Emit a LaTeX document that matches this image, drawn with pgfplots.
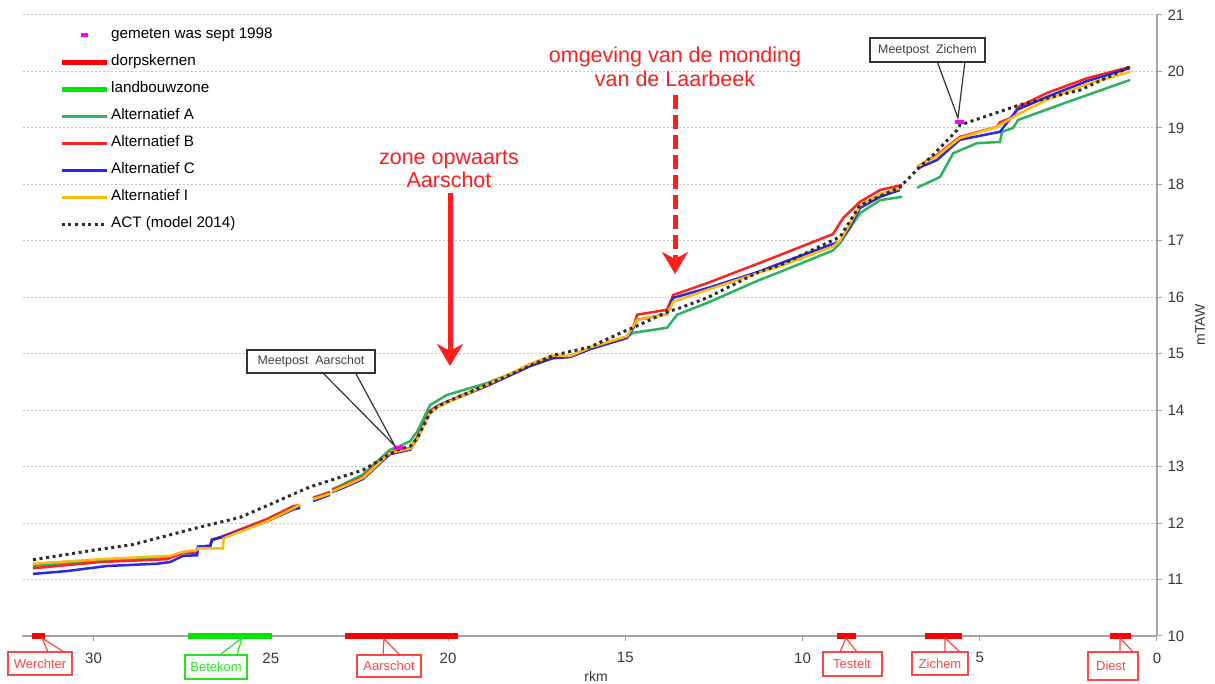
\documentclass[border=0pt]{standalone}
\usepackage{pgfplots}
\pgfplotsset{compat=1.18}
\usepackage{fontspec}
\setmainfont{Liberation Sans}
\usetikzlibrary{arrows.meta}
\definecolor{altA}{RGB}{45,178,95}
\definecolor{altB}{RGB}{255,35,35}
\definecolor{altC}{RGB}{40,40,230}
\definecolor{altI}{RGB}{255,185,10}
\definecolor{actc}{RGB}{45,45,45}
\definecolor{barred}{RGB}{255,0,0}
\definecolor{bargreen}{RGB}{0,230,0}
\definecolor{meas}{RGB}{255,0,255}
\definecolor{axgray}{RGB}{165,165,165}
\definecolor{gridgray}{RGB}{195,195,195}
\definecolor{ticktxt}{RGB}{55,55,55}
\definecolor{annred}{RGB}{255,30,30}
\definecolor{callred}{RGB}{255,70,70}
\definecolor{callgreen}{RGB}{40,225,40}
\pgfplotsset{magleg/.style={legend image code/.code={\draw[##1] (19pt,0pt) -- (26pt,0pt);}}}
\begin{document}
\begin{tikzpicture}
\useasboundingbox (0,0) rectangle (1215pt,684pt);
\begin{axis}[
  at={(22pt,48pt)}, anchor=south west,
  scale only axis, width=1135pt, height=621pt,
  xmin=0, xmax=32.02, ymin=10, ymax=21,
  x dir=reverse,
  axis x line=bottom, axis y line=right,
  axis line style={-, draw=axgray, line width=2pt},
  xtick={0,5,...,30}, ytick={10,11,...,21},
  tick align=outside, major tick length=5pt,
  tick style={draw=axgray, line width=1pt},
  ymajorgrids, major grid style={draw=gridgray, line width=1pt, dash pattern=on 2pt off 2pt},
  ticklabel style={font=\fontsize{15}{17}\selectfont, text=ticktxt},
  /pgf/number format/assume math mode=true,
  xticklabel style={yshift=-8pt},
  yticklabel style={xshift=2pt},
  clip=false, unbounded coords=jump,
  legend image code/.code={\draw[#1] (0pt,0pt) -- (45pt,0pt);},
  legend cell align=left,
  legend style={at={(0.03,0.985)}, anchor=north west, draw=none, fill=none,
     font=\fontsize{15.2}{17}\selectfont, row sep=10pt,
     nodes={text height=10pt, text depth=3pt, inner sep=2pt}},
]
% zones on the river axis
\addplot[barred, line width=6pt, forget plot] coordinates {
(31.74,10)(31.37,10) (25,nan) (22.91,10)(19.72,10) (15,nan) (9.03,10)(8.49,10) (7.5,nan) (6.54,10)(5.50,10) (3,nan) (1.33,10)(0.73,10)};
\addplot[bargreen, line width=6pt, forget plot] coordinates {(27.33,10)(24.96,10)};
% Alternatief A
\addplot[altA, line width=2.5pt, forget plot] coordinates {
(31.71,11.24)(29.82,11.34)(27.93,11.40)(27.48,11.48)(27.08,11.50)(27.05,11.58)(26.71,11.60)(26.66,11.70)(26.38,11.76)(26.06,11.83)(25.11,12.06)(24.37,12.29)(24.17,12.31)
(24.0,nan)
(23.81,12.45)(23.33,12.55)
(23.30,nan)
(23.27,12.60)(23.05,12.66)(22.40,12.86)(21.64,13.30)(21.41,13.35)(21.07,13.45)(20.87,13.62)(20.51,14.09)(20.03,14.27)(18.90,14.48)(18.17,14.66)(17.69,14.80)(17.04,14.94)(16.56,14.96)(15.99,15.10)(14.95,15.30)(14.78,15.37)(13.82,15.46)(13.54,15.69)(12.69,15.90)(11.20,16.31)(10.63,16.45)(9.14,16.83)(8.94,16.96)(8.38,17.49)(7.81,17.72)(7.19,17.78)
(7.0,nan)
(6.77,17.94)(6.12,18.13)(5.75,18.55)(5.08,18.73)(4.43,18.75)(4.37,18.93)(4.06,19.00)(3.92,19.14)(2.74,19.41)(0.76,19.85)};
% Alternatief B
\addplot[altB, line width=2.5pt, forget plot] coordinates {
(31.71,11.20)(29.82,11.31)(27.93,11.36)(27.48,11.47)(27.08,11.47)(27.05,11.58)(26.71,11.60)(26.66,11.71)(26.38,11.76)(26.06,11.84)(25.11,12.07)(24.37,12.30)(24.17,12.32)
(24.0,nan)
(23.81,12.44)(23.33,12.55)
(23.30,nan)
(23.27,12.58)(23.05,12.64)(22.40,12.82)(21.64,13.25)(21.07,13.33)(20.87,13.52)(20.51,13.99)(20.31,14.07)(20.03,14.15)(18.90,14.45)(18.17,14.66)(17.69,14.80)(17.04,14.94)(16.56,14.95)(15.99,15.10)(14.95,15.30)(14.78,15.46)(14.67,15.69)(13.82,15.78)(13.65,16.04)(12.69,16.25)(11.20,16.61)(10.63,16.75)(9.14,17.12)(8.86,17.40)(8.38,17.69)(7.81,17.90)(7.19,17.99)
(7.0,nan)
(6.77,18.31)(6.21,18.52)(5.56,18.84)(4.51,19.02)(4.43,19.10)(4.06,19.19)(3.92,19.37)(3.10,19.62)(1.97,19.88)(0.76,20.08)};
% Alternatief C
\addplot[altC, line width=2.5pt, forget plot] coordinates {
(31.71,11.10)(30.75,11.15)(29.62,11.24)(28.21,11.28)(27.84,11.31)(27.48,11.42)(27.08,11.43)(27.05,11.58)(26.71,11.59)(26.66,11.70)(26.38,11.75)(26.06,11.82)(25.11,12.03)(24.37,12.24)(24.17,12.27)
(24.0,nan)
(23.81,12.39)(23.33,12.50)
(23.30,nan)
(23.27,12.55)(23.05,12.60)(22.40,12.78)(21.64,13.22)(21.07,13.30)(20.87,13.50)(20.51,13.97)(20.31,14.06)(20.03,14.14)(18.90,14.43)(18.17,14.64)(17.69,14.78)(17.04,14.92)(16.56,14.94)(15.99,15.08)(14.95,15.28)(14.78,15.45)(14.67,15.60)(13.82,15.70)(13.65,15.99)(12.69,16.16)(11.20,16.46)(10.63,16.60)(8.94,16.99)(8.66,17.25)(8.38,17.58)(7.81,17.78)(7.25,17.90)
(7.0,nan)
(6.77,18.28)(6.32,18.40)(6.21,18.43)(5.56,18.79)(4.43,18.93)(3.95,19.32)(3.10,19.55)(1.97,19.83)(0.76,20.06)};
% Alternatief I
\addplot[altI, line width=2.5pt, forget plot] coordinates {
(31.71,11.28)(29.82,11.36)(27.84,11.42)(27.48,11.49)(27.08,11.52)(27.05,11.55)(26.35,11.55)(26.33,11.73)(26.06,11.80)(25.11,12.03)(24.37,12.26)(24.17,12.33)
(24.0,nan)
(23.81,12.42)(23.33,12.52)
(23.30,nan)
(23.27,12.56)(23.05,12.62)(22.40,12.80)(21.64,13.24)(21.07,13.32)(20.87,13.48)(20.51,13.96)(20.31,14.05)(20.03,14.13)(18.90,14.45)(18.17,14.67)(17.69,14.82)(17.04,14.97)(16.56,14.96)(15.99,15.11)(14.95,15.31)(14.78,15.48)(14.67,15.60)(13.82,15.70)(13.65,15.92)(12.69,16.13)(11.20,16.44)(10.63,16.55)(9.14,16.90)(8.94,17.00)(8.66,17.30)(8.38,17.62)(7.81,17.83)(7.25,17.93)
(7.0,nan)
(6.77,18.31)(6.21,18.50)(5.56,18.82)(4.51,19.02)(3.95,19.23)(3.10,19.50)(1.97,19.78)(0.76,19.99)};
% ACT (model 2014)
\addplot[actc, line width=3pt, dash pattern=on 3pt off 3.6pt, forget plot] coordinates {
(31.71,11.35)(30.0,11.52)(28.89,11.62)(27.0,11.93)(25.87,12.10)(23.9,12.64)(22.40,12.94)(21.64,13.22)(21.41,13.30)(21.07,13.36)(20.87,13.50)(20.51,13.95)(20.31,14.06)(20.03,14.15)(18.90,14.45)(18.17,14.65)(17.04,14.97)(15.99,15.12)(14.95,15.42)(14.78,15.46)(13.82,15.74)(13.46,15.81)(12.69,15.99)(11.20,16.46)(10.63,16.57)(8.94,17.07)(8.38,17.63)(7.25,17.95)(6.77,18.26)(6.32,18.52)(5.64,18.96)(5.56,19.05)(3.86,19.41)(2.17,19.67)(0.76,20.08)};
% gemeten sept 1998
\addplot[only marks, mark=-, mark size=4.5pt, mark options={draw=meas, line width=4pt}, forget plot] coordinates {(21.41,13.33)(5.56,19.10)};
% legend
\addlegendimage{magleg, draw=meas, line width=4pt}
\addlegendentry{gemeten was sept 1998}
\addlegendimage{draw=barred, line width=5pt}
\addlegendentry{dorpskernen}
\addlegendimage{draw=bargreen, line width=5pt}
\addlegendentry{landbouwzone}
\addlegendimage{draw=altA, line width=3pt}
\addlegendentry{Alternatief A}
\addlegendimage{draw=altB, line width=3pt}
\addlegendentry{Alternatief B}
\addlegendimage{draw=altC, line width=3pt}
\addlegendentry{Alternatief C}
\addlegendimage{draw=altI, line width=3pt}
\addlegendentry{Alternatief I}
\addlegendimage{draw=actc, line width=3pt, dash pattern=on 3pt off 3.6pt}
\addlegendentry{ACT (model 2014)}
\end{axis}
\begin{scope}[x=1pt,y=-1pt,yshift=684pt]
% axis titles
\node[font=\fontsize{14}{16}\selectfont, text=ticktxt] at (596,676) {rkm};
\node[font=\fontsize{14}{16}\selectfont, text=ticktxt, rotate=90] at (1200,325) {mTAW};
% red annotations
\node[text=annred, font=\fontsize{21.5}{23}\selectfont, align=center] at (449,169) {zone opwaarts\\Aarschot};
\draw[annred, line width=5pt, -{Stealth[width=26pt,length=22pt,inset=7pt]}] (450,193) -- (450,366);
\node[text=annred, font=\fontsize{21.5}{24}\selectfont, align=center] at (675,67) {omgeving van de monding\\van de Laarbeek};
\draw[annred, line width=5pt, dash pattern=on 14pt off 6pt, -{Stealth[width=26pt,length=22pt,inset=7pt]}] (675,95) -- (675,274);
% Meetpost callouts
\draw[black!80, line width=1.2pt] (322,372) -- (395,446) -- (355,372);
\draw[black!80, line width=1.2pt, fill=white] (247,350) rectangle (375,373);
\node[font=\fontsize{12.4}{14}\selectfont, text=black!75] at (311,361.5) {Meetpost\ \ Aarschot};
\draw[black!80, line width=1.2pt] (937,61) -- (958,118) -- (965,61);
\draw[black!80, line width=1.2pt, fill=white] (870,38) rectangle (985,62);
\node[font=\fontsize{12.4}{14}\selectfont, text=black!75] at (927.5,50) {Meetpost\ \ Zichem};
% zone callouts
\draw[callred, line width=1.2pt] (48,652) -- (42,638) -- (64,652);
\draw[callred, line width=1.2pt, fill=white] (8,652) rectangle (72,675);
\node[font=\fontsize{13}{15}\selectfont, text=callred] at (40,663.5) {Werchter};
\draw[callgreen, line width=1.2pt] (220,655) -- (242,638) -- (237,655);
\draw[callgreen, line width=1.2pt, fill=white] (185,655) rectangle (247,679);
\node[font=\fontsize{13}{15}\selectfont, text=callgreen] at (216,667) {Betekom};
\draw[callred, line width=1.2pt] (383,655) -- (384,639) -- (400,655);
\draw[callred, line width=1.2pt, fill=white] (357,655) rectangle (421,677);
\node[font=\fontsize{13}{15}\selectfont, text=callred] at (389,666) {Aarschot};
\draw[callred, line width=1.2pt] (840,652) -- (846,638) -- (857,652);
\draw[callred, line width=1.2pt, fill=white] (823,652) rectangle (882,676);
\node[font=\fontsize{13}{15}\selectfont, text=callred] at (852,664) {Testelt};
\draw[callred, line width=1.2pt] (945,652) -- (945,638) -- (960,652);
\draw[callred, line width=1.2pt, fill=white] (912,652) rectangle (968,675);
\node[font=\fontsize{13}{15}\selectfont, text=callred] at (940,663.5) {Zichem};
\draw[callred, line width=1.2pt] (1120,652) -- (1120,638) -- (1133,652);
\draw[callred, line width=1.2pt, fill=white] (1088,652) rectangle (1138,680);
\node[font=\fontsize{13}{15}\selectfont, text=callred] at (1111,666) {Diest};
\end{scope}
\end{tikzpicture}
\end{document}
